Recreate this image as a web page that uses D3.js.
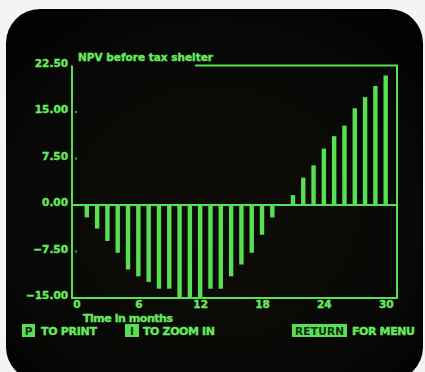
<!DOCTYPE html>
<html>
<head>
<meta charset="utf-8">
<script src="https://cdn.jsdelivr.net/npm/d3@7"></script>
<style>
  html, body { margin: 0; padding: 0; background: #f4f4f2; }
  svg { display: block; }
  text { font-family: "DejaVu Sans", sans-serif; font-weight: bold; }
</style>
</head>
<body>
<div id="area1"></div>
<script>
// months on the x axis, one bar each
var months = [1,2,3,4,5,6,7,8,9,10,11,12,13,14,15,16,17,18,19,20,21,22,23,24,25,26,27,28,29,30];
// net present value per month
var npv = [-2.0,-3.8,-5.8,-7.7,-10.4,-11.5,-12.4,-13.5,-13.5,-15.0,-15.0,-15.0,-13.5,-13.5,-11.5,
           -9.6,-7.7,-4.8,-2.0,0.0,1.6,4.4,6.4,9.1,11.1,12.8,15.6,17.4,19.2,20.9];
var yTicks = [22.5, 15, 7.5, 0, -7.5, -15];
var xTicks = [0, 6, 12, 18, 24, 30];

var width = 425, height = 372;
var green = "#56e052";
var textGreen = "#68ea5e";

var svg = d3.select("#area1").append("svg")
  .attr("width", width)
  .attr("height", height);

// screen glow
var defs = svg.append("defs");
var grad = defs.append("radialGradient").attr("id", "scr")
  .attr("cx", "50%").attr("cy", "55%").attr("r", "65%");
grad.append("stop").attr("offset", "0%").attr("stop-color", "#0e0c08");
grad.append("stop").attr("offset", "80%").attr("stop-color", "#070806");
grad.append("stop").attr("offset", "100%").attr("stop-color", "#020202");

svg.append("rect")
  .attr("x", 6).attr("y", 9)
  .attr("width", 417).attr("height", 372)
  .attr("rx", 34).attr("ry", 34)
  .attr("fill", "url(#scr)");

var x = d3.scaleLinear().domain([0, 30]).range([76.5, 385.7]);
var y = d3.scaleLinear().domain([-15, 22.5]).range([298, 65.5]);

var left = 72, right = 397;

// y axis
var yAxis = d3.axisLeft(y)
  .tickValues(yTicks)
  .tickFormat(d3.format(".2f"))
  .tickSize(0)
  .tickPadding(4);

var gy = svg.append("g")
  .attr("transform", "translate(" + left + ",0)")
  .call(yAxis);
gy.select(".domain").remove();
gy.selectAll("text")
  .attr("fill", textGreen)
  .attr("stroke", textGreen)
  .attr("stroke-width", 0.4)
  .attr("font-size", 10.5)
  .attr("dy", "0.05em");

// little inward tick marks
svg.selectAll(".ytick")
  .data(yTicks.slice(1, 5))
  .enter().append("rect")
  .attr("x", left + 3)
  .attr("y", function(d) { return y(d) - 1; })
  .attr("width", 2).attr("height", 2)
  .attr("fill", green)
  .attr("opacity", 0.7);

// x axis labels
var xAxis = d3.axisBottom(x)
  .tickValues(xTicks)
  .tickFormat(d3.format("d"))
  .tickSize(0)
  .tickPadding(3);

var gx = svg.append("g")
  .attr("transform", "translate(0," + y(-15) + ")")
  .call(xAxis);
gx.select(".domain").remove();
gx.selectAll("text")
  .attr("fill", textGreen)
  .attr("stroke", textGreen)
  .attr("stroke-width", 0.4)
  .attr("font-size", 10.5);

// frame
var frame = svg.append("g")
  .attr("stroke", green)
  .attr("stroke-width", 2)
  .attr("fill", "none");
frame.append("line").attr("x1", left).attr("x2", left).attr("y1", y(22.5)).attr("y2", y(-15) + 1);
frame.append("line").attr("x1", right).attr("x2", right).attr("y1", y(22.5)).attr("y2", y(-15) + 1);
frame.append("line").attr("x1", left).attr("x2", right).attr("y1", y(-15)).attr("y2", y(-15));
frame.append("line").attr("x1", left).attr("x2", right).attr("y1", y(0)).attr("y2", y(0));
frame.append("line").attr("x1", 195).attr("x2", right + 1).attr("y1", y(22.5)).attr("y2", y(22.5));

// bars
svg.selectAll(".bar")
  .data(npv)
  .enter().append("rect")
  .attr("class", "bar")
  .attr("x", function(d, i) { return x(months[i]) - 2.2; })
  .attr("y", function(d) { return Math.min(y(d), y(0)); })
  .attr("width", 4.4)
  .attr("height", function(d) { return Math.abs(y(d) - y(0)); })
  .attr("fill", green);

// title
svg.append("text")
  .attr("x", 78).attr("y", 61)
  .attr("fill", textGreen)
  .attr("stroke", textGreen)
  .attr("stroke-width", 0.4)
  .attr("font-size", 10.5)
  .attr("textLength", 135)
  .text("NPV before tax shelter");

svg.append("text")
  .attr("x", 83).attr("y", 322)
  .attr("fill", textGreen)
  .attr("stroke", textGreen)
  .attr("stroke-width", 0.4)
  .attr("font-size", 11)
  .attr("textLength", 90)
  .text("Time in months");

// menu line
var keys = [
  {box: "P", bx: 22, bw: 13, label: "TO PRINT", lx: 41, lw: 56},
  {box: "I", bx: 125, bw: 14, label: "TO ZOOM IN", lx: 143, lw: 72},
  {box: "RETURN", bx: 292, bw: 55, label: "FOR MENU", lx: 352, lw: 63}
];
var menu = svg.append("g");
keys.forEach(function(k) {
  menu.append("rect")
    .attr("x", k.bx).attr("y", 324)
    .attr("width", k.bw).attr("height", 13)
    .attr("fill", green);
  menu.append("text")
    .attr("x", k.bx + k.bw / 2).attr("y", 335)
    .attr("text-anchor", "middle")
    .attr("fill", "#0f2a0c")
    .attr("font-size", 10.5)
    .attr("textLength", k.box.length > 1 ? k.bw - 6 : null)
    .text(k.box);
  menu.append("text")
    .attr("x", k.lx).attr("y", 335)
    .attr("fill", textGreen)
    .attr("stroke", textGreen)
    .attr("stroke-width", 0.4)
    .attr("font-size", 11)
    .attr("textLength", k.lw)
    .text(k.label);
});
</script>
</body>
</html>
